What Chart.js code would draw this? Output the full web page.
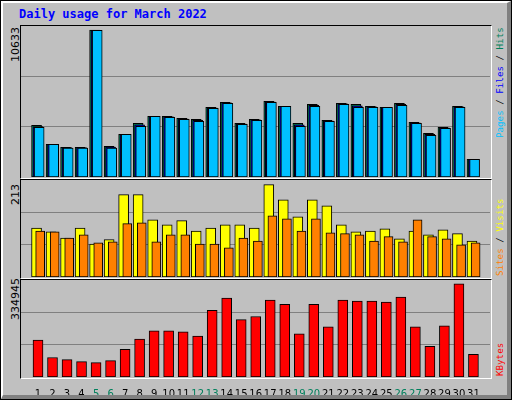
<!DOCTYPE html>
<html><head><meta charset="utf-8">
<script src="https://cdn.jsdelivr.net/npm/chart.js@4"></script>
<style>
html,body{margin:0;padding:0;width:512px;height:400px;overflow:hidden;background:#c0c0c0}
#frame{position:absolute;left:0;top:0;width:510px;height:398px;border:1px solid #000;background:#c0c0c0}
#hl{position:absolute;left:1px;top:1px;width:504px;height:392px;border-top:2px solid #fff;border-left:2px solid #fff;border-right:4px solid #808080;border-bottom:4px solid #808080}
.panel{position:absolute;border-top:1px solid #000;border-left:1px solid #000;border-right:1px solid #fff;border-bottom:1px solid #fff}
canvas{position:absolute}
.rot{position:absolute;transform-origin:0 0;transform:rotate(-90deg);white-space:nowrap;font-family:"DejaVu Sans Mono",monospace;font-size:9.2px}
#title{position:absolute;left:19px;top:7px;font-family:"DejaVu Sans Mono",monospace;font-weight:bold;font-size:12px;color:#0000ff}
</style></head><body>
<div id="frame"></div><div id="hl"></div>
<div id="title">Daily usage for March 2022</div>
<div class="panel" style="left:20px;top:25px;width:470px;height:152px"></div>
<div class="panel" style="left:20px;top:179px;width:470px;height:98px"></div>
<div class="panel" style="left:20px;top:279px;width:470px;height:98px"></div>
<div class="rot" style="left:9px;top:62px;font-family:'DejaVu Sans';font-size:11px">10633</div>
<div class="rot" style="left:9px;top:205px;font-family:'DejaVu Sans';font-size:11px">213</div>
<div class="rot" style="left:9px;top:320px;font-family:'DejaVu Sans';font-size:11px">334945</div>
<div class="rot" style="left:494px;top:138px"><span style="color:#00c0ff">Pages</span> / <span style="color:#0000ff">Files</span> / <span style="color:#00805c">Hits</span></div>
<div class="rot" style="left:494px;top:276px"><span style="color:#ff8000">Sites</span> / <span style="color:#ffff00">Visits</span></div>
<div class="rot" style="left:494px;top:376px"><span style="color:#ff0000">KBytes</span></div>
<canvas id="c1" style="left:21px;top:26px;width:469px;height:151px" width="469" height="151"></canvas>
<canvas id="c2" style="left:21px;top:180px;width:469px;height:97px" width="469" height="97"></canvas>
<canvas id="c3" style="left:21px;top:280px;width:469px;height:115px" width="469" height="115"></canvas>
<script>
const days=[1,2,3,4,5,6,7,8,9,10,11,12,13,14,15,16,17,18,19,20,21,22,23,24,25,26,27,28,29,30,31];
const weekend=[5,6,12,13,19,20,26,27];
const hits=[3740,2365,2148,2148,10633,2221,3088,3884,4390,4390,4246,4173,5041,5403,3884,4173,5475,5114,3884,5258,4101,5331,5258,5114,5041,5331,3956,3161,3595,5114,1280];
const files=[3640,2365,2120,2120,10600,2160,3088,3780,4390,4360,4210,4100,5000,5370,3850,4140,5440,5114,3780,5190,4065,5295,5150,5080,5041,5260,3920,3090,3560,5080,1280];
const pages=[3595,2365,2098,2098,10600,2098,3088,3667,4390,4318,4173,4029,4969,5331,3811,4101,5403,5114,3667,5114,4029,5258,5041,5041,5041,5186,3884,3016,3523,5041,1280];
const visits=[113,104,90,113,76,86,190,190,132,120,130,106,113,120,120,113,213,178,139,178,164,120,104,106,111,88,106,97,109,100,83];
const sites=[106,104,90,97,79,81,123,125,81,97,97,76,76,67,90,83,141,134,106,134,102,100,97,83,93,81,132,93,88,74,79];
const kbytes=[132500,69900,62600,55200,51500,58900,99400,136200,165600,165600,162000,147200,239300,283400,206100,217200,276100,261300,154600,261300,180400,276100,272400,272400,268700,287100,180400,110400,184000,334945,81000];
const maxTop=10633, maxMid=213, maxBot=334945;

function pts(arr,off){return arr.map((v,i)=>({x:days[i]+off,y:v}));}
function ds(arr,off,color,w,ord){return {data:pts(arr,off),order:ord,backgroundColor:color,borderColor:'#000',borderWidth:1,barThickness:w,borderSkipped:false,grouped:false};}
function xScale(show){return {type:'linear',min:0.35,max:31.62,display:show,
  afterBuildTicks:s=>{s.ticks=days.map(v=>({value:v}));},
  afterFit:s=>{if(show)s.height=18;},
  grid:{display:false},border:{display:false},
  ticks:{autoSkip:false,maxRotation:0,padding:3,font:{family:'DejaVu Sans',size:10},
    color:c=>weekend.includes(c.tick.value)?'#00805c':'#000',callback:v=>String(v)}};}
function yScale(max){return {min:0,max:max,display:true,
  afterBuildTicks:s=>{s.ticks=[{value:max/3},{value:2*max/3}];},
  grid:{color:'#808080',lineWidth:1,drawTicks:false},border:{display:false},
  ticks:{display:false}, afterFit:s=>{s.width=0;}};}
function mk(id,datasets,ymax,showX){
  new Chart(document.getElementById(id),{type:'bar',data:{datasets},
    options:{responsive:false,animation:false,events:[],layout:{padding:0},
      plugins:{legend:{display:false},tooltip:{enabled:false}},
      scales:{x:xScale(showX),y:yScale(ymax)}}});
}
Chart.defaults.font.family='DejaVu Sans';
mk('c1',[ds(hits,-0.1,'#00805c',10,3),ds(files,0,'#0000ff',10,2),ds(pages,0.08,'#00c0ff',10,1)],maxTop*1.027,false);
mk('c2',[ds(visits,-0.1,'#ffff00',10,2),ds(sites,0.15,'#ff8000',9,1)],maxMid*1.05,false);
mk('c3',[ds(kbytes,0,'#ff0000',10,1)],maxBot*1.04,true);
</script>
</body></html>
